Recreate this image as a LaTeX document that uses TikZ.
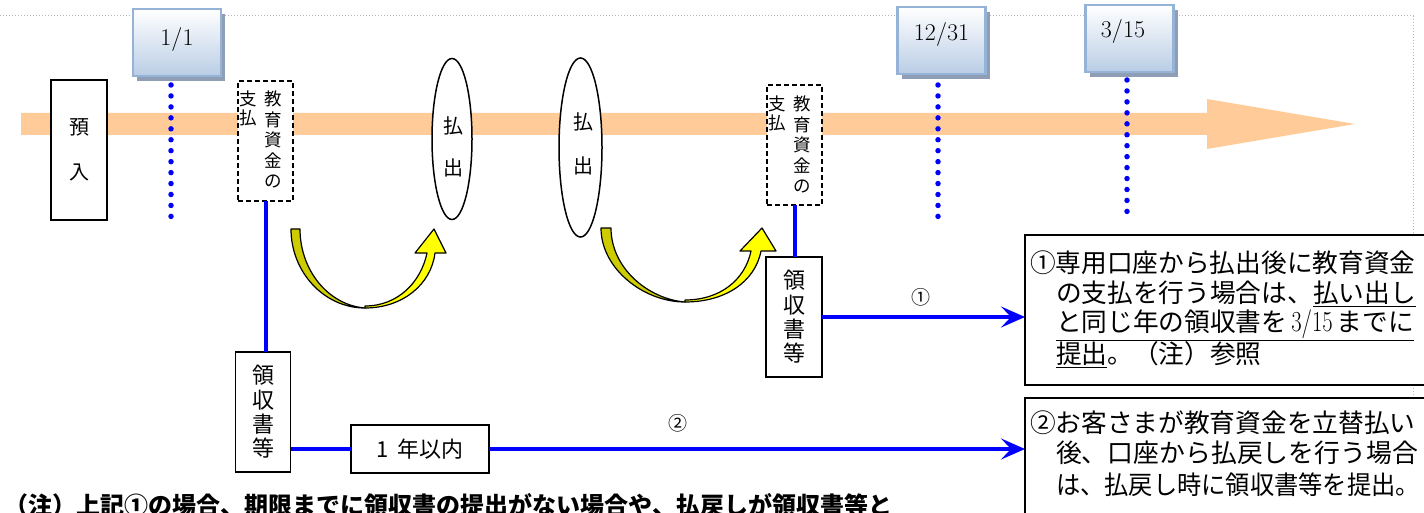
\documentclass[tikz,border=0pt]{standalone}
\usepackage{fontspec}
\usepackage{graphicx}
\newfontfamily\jp{Noto Sans CJK JP}
\usetikzlibrary{shapes.geometric,arrows.meta,shadows}
\definecolor{bandor}{RGB}{255,204,153}
\definecolor{dotblue}{RGB}{0,0,255}
\definecolor{dateborder}{RGB}{149,179,215}
\definecolor{datebot}{RGB}{185,205,229}
\definecolor{dateshadow}{RGB}{143,158,180}
\definecolor{olivey}{RGB}{204,204,0}
\definecolor{brighty}{RGB}{255,255,0}
\definecolor{framegray}{RGB}{185,185,185}
\begin{document}
\begin{tikzpicture}[x=1pt,y=-1pt,
  every node/.style={inner sep=0pt, outer sep=0pt},
  datebox/.style={rectangle, minimum width=88pt, minimum height=67pt, draw=dateborder, line width=2.5pt,
    top color=white, bottom color=datebot,
    drop shadow={shadow xshift=4pt, shadow yshift=-5pt, fill=dateshadow, opacity=1}},
  datetext/.style={font=\rmfamily\fontsize{24}{24}\selectfont},
  bluedots/.style={draw=dotblue, line width=5.5pt, line cap=round, dash pattern=on 0pt off 10.95pt},
  blackbox/.style={rectangle, draw=black, fill=white, line width=1.5pt},
  dashbox/.style={rectangle, draw=black, fill=white, line width=1.5pt, dash pattern=on 5pt off 3pt,
    minimum width=55pt, minimum height=120pt},
  ovalbox/.style={ellipse, draw=black, fill=white, line width=1.5pt},
  vtext/.style={font=\jp\fontsize{17.5}{20.5}\selectfont, align=center, anchor=north},
  vtextb/.style={font=\jp\fontsize{17.5}{19}\selectfont, align=center, anchor=north},
  bigv/.style={font=\jp\fontsize{20}{#1}\selectfont, align=center, anchor=north},
  rectext/.style={blackbox, minimum width=55pt, minimum height=120pt, font=\jp\fontsize{22}{24.3}\selectfont, align=center},
  notebox/.style={rectangle, draw=black, fill=white, line width=1.5pt},
  noteline/.style={anchor=west, font=\jp\fontsize{25.7}{30}\selectfont},
  blueline/.style={draw=dotblue, line width=4pt},
  bluearrow/.style={blueline, -{Stealth[length=24pt,width=21pt,inset=10pt]}},
  circlab/.style={font=\jp\fontsize{19}{19}\selectfont},
  darkpart/.style={fill=olivey, draw=black, line width=1.2pt, line join=round},
  brightpart/.style={fill=brighty, draw=black, line width=1.2pt, line join=round}
]
\useasboundingbox (0,0) rectangle (1424,513);
\clip (0,0) rectangle (1424,513);
\fill[white] (0,0) rectangle (1424,513);

% page frame
\draw[framegray, line width=1pt, dash pattern=on 1pt off 2pt] (0,16) -- (1413,16) -- (1413,513);

% time band
\fill[bandor] (21,113) -- (1207,113) -- (1207,99) -- (1355,124) -- (1207,149) -- (1207,135) -- (21,135) -- cycle;

% dotted date lines
\coordinate (v1a) at (171,85);  \coordinate (v1b) at (171,227);
\coordinate (v2a) at (938,85);  \coordinate (v2b) at (938,227);
\coordinate (v3a) at (1127,80); \coordinate (v3b) at (1127,222);
\draw[bluedots] (v1a) -- (v1b);
\draw[bluedots] (v2a) -- (v2b);
\draw[bluedots] (v3a) -- (v3b);

% date boxes
\node[datebox] (d1) at (177,42.5) {};
\node[datetext] (d1t) at (177,40) {1/1};
\node[datebox] (d2) at (941.5,40.5) {};
\node[datetext] (d2t) at (941.5,35) {12/31};
\node[datebox] (d3) at (1129.5,38.5) {};
\node[datetext] (d3t) at (1123,32) {3/15};

% deposit
\node[blackbox, minimum width=56pt, minimum height=140pt, font=\jp\fontsize{20}{45}\selectfont, align=center] (yonyu) at (79,150) {預\\入};

% payment dashed boxes
\node[dashbox] (pay1) at (265.5,141) {};
\node[vtext] (pay1r) at (273,91) {教\\育\\資\\金\\の};
\node[vtextb] (pay1l) at (248,91) {支\\払};
\node[dashbox] (pay2) at (794.5,145) {};
\node[vtext] (pay2r) at (802,96) {教\\育\\資\\金\\の};
\node[vtextb] (pay2l) at (777,96) {支\\払};

% withdrawal ellipses
\node[ovalbox, minimum width=40pt, minimum height=161pt] (ell1) at (452,139) {};
\node[bigv=42] (ell1t) at (453,116.6) {払\\出};
\node[ovalbox, minimum width=43pt, minimum height=179pt] (ell2) at (580.5,147.5) {};
\node[bigv=44] (ell2t) at (583,112.6) {払\\出};

% receipts
\node[rectext] (rec1) at (263,412) {領\\収\\書\\等};
\node[rectext, minimum width=56pt] (rec2) at (794,317) {領\\収\\書\\等};
\node[blackbox, minimum width=138pt, minimum height=48pt, font=\jp\fontsize{22}{22}\selectfont] (yr) at (420,449) {1\hspace{0.4em}年以内};

% yellow curved arrows
\draw[darkpart] (291,229) .. controls (291,272) and (324,308) .. (365,308)
  .. controls (328,305) and (300,270) .. (300,229) -- cycle;
\draw[brightpart] (365,308) .. controls (402,308) and (431,285) .. (435,253)
  -- (446,253) -- (434,229) -- (415,253) -- (427,253)
  .. controls (421,282) and (398,306) .. (365,306) -- cycle;
\draw[darkpart] (601,228) .. controls (601,269) and (644,302) .. (685,302)
  .. controls (648,299) and (611,268) .. (611,228) -- cycle;
\draw[brightpart] (685,302) .. controls (725,302) and (755,282) .. (761,251)
  -- (776,251) -- (762,228) -- (740,251) -- (751,251)
  .. controls (745,280) and (720,300) .. (685,300) -- cycle;

% note boxes
\node[notebox, minimum width=415pt, minimum height=150pt] (note1) at (1232.5,310) {};
\node[noteline] (n1a) at (1030,263) {①専用口座から払出後に教育資金};
\node[noteline] (n1b) at (1056,294) {の支払を行う場合は、\underline{払い出し}};
\node[noteline] (n1c) at (1056,325) {\underline{と同じ年の領収書を\hspace{4pt}{\rmfamily\fontsize{29}{29}\selectfont\scalebox{0.78}[1]{3/15}}\hspace{4pt}までに}};
\node[noteline] (n1d) at (1056,355) {\underline{提出}。（注）参照};
\node[notebox, minimum width=415pt, minimum height=130pt] (note2) at (1232.5,463) {};
\node[noteline] (n2a) at (1030,423) {②お客さまが教育資金を立替払い};
\node[noteline] (n2b) at (1056,453) {\resizebox{362pt}{\height}{後、口座から払戻しを行う場合}};
\node[noteline] (n2c) at (1056,485) {\resizebox{364pt}{\height}{は、払戻し時に領収書等を提出。}};

% blue connectors
\draw[blueline] (pay1.south) -- (pay1.south |- rec1.north);
\draw[blueline] (pay2.south) -- (pay2.south |- rec2.north);
\draw[bluearrow] (rec2.east) -- (rec2.east -| note1.west);
\draw[blueline] (rec1.east |- yr.west) -- (yr.west);
\draw[bluearrow] (yr.east) -- (yr.east -| note2.west);
\node[circlab] (lab1) at (921,297) {①};
\node[circlab] (lab2) at (678,423) {②};

% footnote (cut at bottom)
\node[anchor=west, font=\jp\bfseries\fontsize{24}{24}\selectfont] (foot) at (5,505) {（注）上記①の場合、期限までに領収書の提出がない場合や、払戻しが領収書等と};
\end{tikzpicture}
\end{document}
